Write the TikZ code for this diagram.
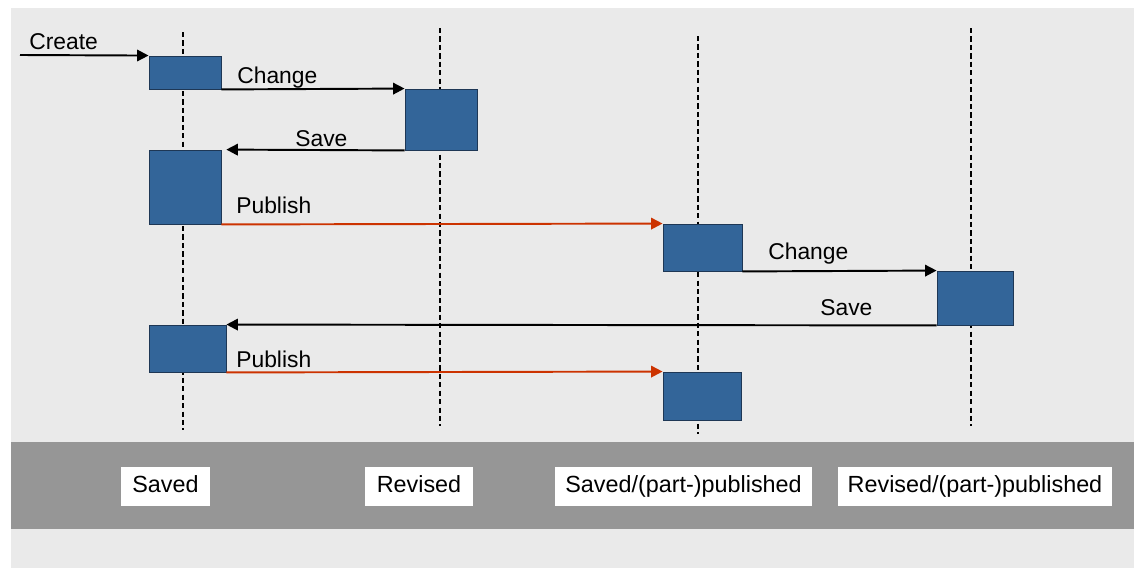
\documentclass[tikz,border=0pt]{standalone}
\usepackage{fontspec}
\setmainfont{Liberation Sans}
\usetikzlibrary{arrows.meta,fit}
\definecolor{boxblue}{RGB}{51,101,153}
\definecolor{boxline}{RGB}{30,55,85}
\definecolor{pubred}{RGB}{204,51,0}
\definecolor{panel}{RGB}{234,234,234}
\definecolor{band}{RGB}{150,150,150}
\tikzset{
  blk/.style={draw=boxline, fill=boxblue, line width=0.5pt, inner sep=0pt},
  life/.style={line width=1pt, dash pattern=on 3pt off 1.8pt},
  msg/.style={line width=1.1pt, -{Triangle[length=6.5pt,width=6.5pt]}},
  pub/.style={msg, pubred},
  lbl/.style={anchor=base west, inner sep=0pt, font=\fontsize{13}{15}\selectfont},
  tag/.style={fill=white, inner sep=0pt, text height=9.6pt, text depth=2.8pt,
    minimum height=22.1pt, font=\fontsize{13.3}{15}\selectfont}
}
\begin{document}
\begin{tikzpicture}[x=0.02cm, y=-0.02cm]
                \useasboundingbox (0,0) rectangle (1134,568);
                \fill [white] (0,0) rectangle (1134,568);
                \fill [panel] (11,8) rectangle (1134,568);
                \fill [band] (11,442) rectangle (1134,529);
                \foreach \x/\a/\b in {183/32/430, 440/28/426, 698/36/434, 971/28/426}
                    \draw [life] (\x,\a) -- (\x,\b);
                \node [blk, fit={(149,56) (221,89)}] (b1) {};
                \node [blk, fit={(405,89) (477,150)}] (b2) {};
                \node [blk, fit={(149,150) (221,224)}] (b3) {};
                \node [blk, fit={(663,224) (742,271)}] (b4) {};
                \node [blk, fit={(937,271) (1013,325)}] (b5) {};
                \node [blk, fit={(149,325) (226,372)}] (b6) {};
                \node [blk, fit={(663,372) (741,420)}] (b7) {};
                \coordinate (start) at (20,55);
                \draw [msg] (start) -- (b1.north west);
                \draw [msg] (b1.south east) -- (b2.north west);
                \draw [msg, shorten >=2.8pt] (b2.south west) -- (b3.north east);
                \draw [pub] (b3.south east) -- (b4.north west);
                \draw [msg] (b4.south east) -- (b5.north west);
                \draw [msg] (b5.south west) -- (b6.north east);
                \draw [pub] (b6.south east) -- (b7.north west);
                \node [lbl] (create) at (29,50) {Create};
                \node [lbl] (change1) at (237,83) {Change};
                \node [lbl] (save1) at (295,146) {Save};
                \node [lbl] (publish1) at (236,213) {Publish};
                \node [lbl] (change2) at (768,259) {Change};
                \node [lbl] (save2) at (820,315) {Save};
                \node [lbl] (publish2) at (236,367) {Publish};
                \node [tag, minimum width=50.5pt] (saved) at (165.5,486.5) {Saved};
                \node [tag, minimum width=61.2pt] (revised) at (419,486.5) {Revised};
                \node [tag, minimum width=146.8pt] (savedpub) at (683.5,486.5) {Saved/(part-)published};
                \node [tag, minimum width=156.5pt] (revisedpub) at (975,486.5) {Revised/(part-)published};
            \end{tikzpicture}
\end{document}
